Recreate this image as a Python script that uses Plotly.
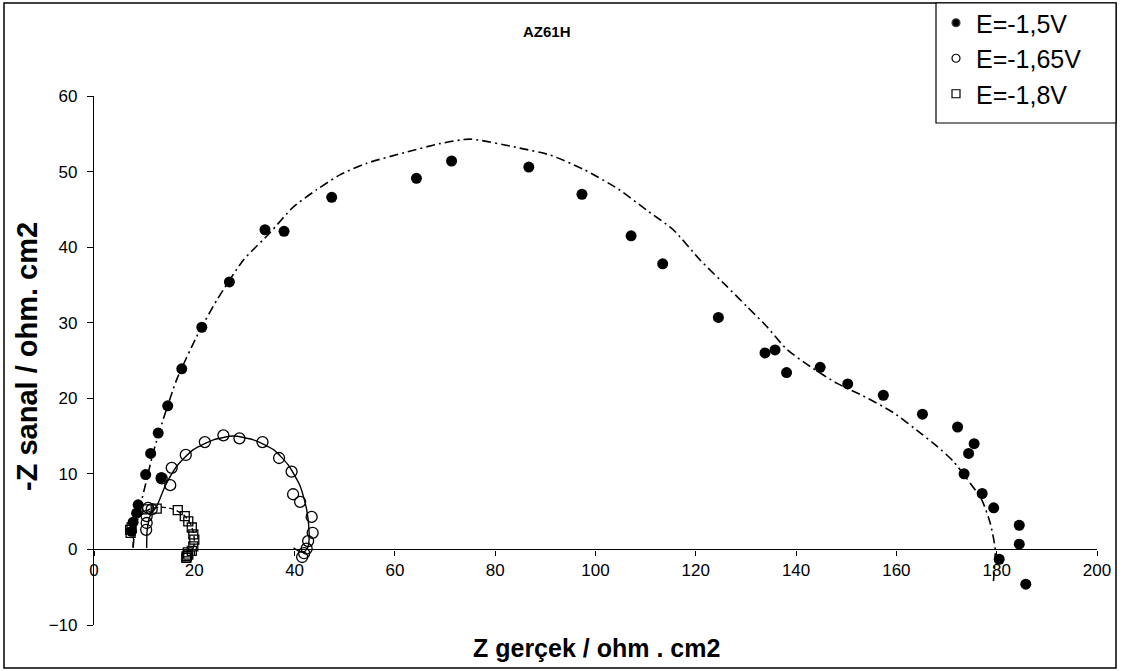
import plotly.graph_objects as go

# ---- data ----
s1_x = [7.5, 7.8, 8.5, 8.8, 10.3, 13.4, 11.3, 12.8, 14.7, 17.5, 21.5, 27.0, 34.1, 37.9, 47.4, 64.3, 71.3,
        86.7, 97.3, 107.1, 113.4, 124.5, 133.8, 135.8, 138.1, 144.8, 150.3, 157.4, 165.2, 172.2, 175.5,
        174.4, 173.5, 177.1, 179.4, 184.5, 184.5, 180.5, 185.8]
s1_y = [2.4, 3.6, 4.8, 5.9, 9.9, 9.5, 12.7, 15.4, 19.0, 23.9, 29.4, 35.4, 42.3, 42.1, 46.6, 49.1, 51.4,
        50.6, 47.0, 41.5, 37.8, 30.7, 26.0, 26.4, 23.4, 24.1, 21.9, 20.4, 17.9, 16.2, 14.0,
        12.7, 10.0, 7.4, 5.5, 3.2, 0.7, -1.3, -4.6]

fit1_x = [7.8, 8.2, 9.2, 10.2, 11.8, 13.8, 16.5, 20.5, 24.5, 29.8, 35.1, 39.7, 44.4, 49.1, 54.4, 62.4,
          69.0, 75.0, 84.9, 90.9, 97.6, 104.5, 110.2, 115.5, 121.0, 126.2, 130.1, 134.0, 138.1, 142.8,
          148.1, 153.4, 159.4, 165.0, 168.0, 171.3, 173.9, 177.0, 178.7, 179.7, 179.3]
fit1_y = [0.2, 3.1, 5.7, 8.4, 12.8, 17.2, 22.5, 28.2, 33.0, 38.3, 41.9, 45.3, 47.6, 49.6, 51.1, 52.6,
          53.7, 54.3, 53.1, 52.2, 50.3, 47.7, 44.9, 42.3, 38.2, 34.8, 32.2, 29.6, 26.5, 24.2,
          22.0, 20.3, 18.1, 15.3, 13.7, 11.7, 9.5, 6.6, 3.5, 0.0, -4.6]

s2_x = [10.4, 10.5, 10.5, 10.8, 11.5, 13.5, 15.2, 15.5, 18.3, 22.1, 25.8, 29.0, 33.6, 36.9, 39.4, 39.7,
        41.1, 43.4, 43.6, 42.7, 42.4, 41.9, 41.5]
s2_y = [2.6, 3.5, 4.4, 5.5, 5.3, 9.4, 8.5, 10.8, 12.5, 14.2, 15.1, 14.7, 14.2, 12.1, 10.3, 7.3,
        6.3, 4.3, 2.2, 1.1, 0.1, -0.5, -1.0]

fit2_x = [10.5, 10.6, 11.2, 12.5, 14.2, 16.5, 19.8, 23.8, 27.8, 31.8, 35.8, 38.7, 41.1, 42.4, 42.9,
          42.7, 41.8, 40.8, 39.8]
fit2_y = [0.2, 2.5, 4.5, 5.7, 8.4, 11.0, 13.2, 14.5, 15.0, 14.5, 13.2, 11.2, 8.4, 5.3, 2.2,
          0.4, -0.4, -0.2, 0.2]

s3_x = [7.2, 7.3, 7.5, 10.5, 12.5, 16.7, 18.1, 18.8, 19.5, 19.8, 20.0, 19.8, 19.5, 18.8, 18.7, 18.5, 18.4]
s3_y = [2.6, 2.2, 2.9, 5.3, 5.4, 5.2, 4.4, 3.7, 2.9, 2.0, 1.3, 0.4, -0.2, -0.7, -0.4, -0.9, -1.1]

fit3_x = [7.8, 8.0, 9.0, 11.0, 13.5, 16.0, 18.0, 19.3, 19.9, 20.0, 19.6, 19.0]
fit3_y = [0.3, 2.5, 4.3, 5.3, 5.6, 5.3, 4.5, 3.3, 2.0, 0.8, -0.3, -0.9]

names = ["E=-1,5V", "E=-1,65V", "E=-1,8V"]
title = "AZ61H"
x_title = "Z gerçek / ohm . cm2"
y_title = "-Z sanal / ohm. cm2"
x_ticks = [0, 20, 40, 60, 80, 100, 120, 140, 160, 180, 200]
y_ticks = [-10, 0, 10, 20, 30, 40, 50, 60]

FONT = "Liberation Sans, Arial, sans-serif"

fig = go.Figure()

# fitted curves
fig.add_trace(go.Scatter(x=fit1_x, y=fit1_y, mode="lines", showlegend=False, hoverinfo="skip",
                         line=dict(color="black", width=1.6, dash="9px,4px,2px,4px", shape="spline", smoothing=0.6)))
fig.add_trace(go.Scatter(x=fit2_x, y=fit2_y, mode="lines", showlegend=False, hoverinfo="skip",
                         line=dict(color="black", width=1.4, shape="spline", smoothing=0.6)))
fig.add_trace(go.Scatter(x=fit3_x, y=fit3_y, mode="lines", showlegend=False, hoverinfo="skip",
                         line=dict(color="black", width=1.4, dash="5px,3px", shape="spline", smoothing=0.6)))

# data markers
fig.add_trace(go.Scatter(x=s3_x, y=s3_y, mode="markers", showlegend=False,
                         marker=dict(symbol="square-open", size=9, color="black", line=dict(width=1.3))))
fig.add_trace(go.Scatter(x=s2_x, y=s2_y, mode="markers", showlegend=False,
                         marker=dict(symbol="circle-open", size=11, color="black", line=dict(width=1.3))))
fig.add_trace(go.Scatter(x=s1_x, y=s1_y, mode="markers", showlegend=False,
                         marker=dict(symbol="circle", size=11, color="black")))

# legend entries (small symbols like the reference)
for nm, sym in zip(names, ["circle", "circle-open", "square-open"]):
    fig.add_trace(go.Scatter(x=[None], y=[None], mode="markers", name=nm,
                             marker=dict(symbol=sym, size=8, color="black", line=dict(width=1.2))))

# plot area: x 94..1097 px, y 96..625 px
W, H = 1126, 671
L, R, T, B = 94, 1097, 96, 625


def px(xp):
    return (xp - L) / (R - L)


def py(yp):
    return (B - yp) / (B - T)


fig.update_layout(
    width=W, height=H,
    margin=dict(l=L, r=W - R, t=T, b=H - B, pad=0, autoexpand=False),
    paper_bgcolor="white", plot_bgcolor="white",
    font=dict(family=FONT, color="black"),
    xaxis=dict(range=[0, 200], tickvals=x_ticks, showgrid=False, zeroline=False,
               showline=True, linecolor="black", linewidth=1.2, ticks="outside", ticklen=5,
               tickcolor="black", anchor="free", position=10 / 70,
               tickfont=dict(size=17, family=FONT)),
    yaxis=dict(range=[-10, 60], tickvals=y_ticks, showgrid=False, zeroline=False,
               showline=True, linecolor="black", linewidth=1.2, ticks="outside", ticklen=6,
               tickcolor="black", tickfont=dict(size=17, family=FONT), ticklabelstandoff=6),
    legend=dict(x=px(936), y=py(0), xanchor="left", yanchor="top", bgcolor="rgba(0,0,0,0)",
                borderwidth=0, font=dict(size=25, family=FONT)),
    showlegend=True,
    shapes=[
        dict(type="rect", xref="paper", yref="paper", x0=px(4), x1=px(1116), y0=py(668), y1=py(3),
             line=dict(color="black", width=1.5), layer="below"),
        dict(type="rect", xref="paper", yref="paper", x0=px(936), x1=px(1116), y0=py(123), y1=py(3),
             line=dict(color="black", width=1.2), fillcolor="white", layer="below"),
    ],
    annotations=[
        dict(text="<b>" + title + "</b>", x=px(547), y=py(32), xref="paper", yref="paper",
             xanchor="center", yanchor="middle", showarrow=False, font=dict(size=15, family=FONT)),
        dict(text="<b>" + x_title + "</b>", x=px(596), y=py(648), xref="paper", yref="paper",
             xanchor="center", yanchor="middle", showarrow=False, font=dict(size=25, family=FONT)),
        dict(text="<b>" + y_title + "</b>", x=px(27), y=py(357), xref="paper", yref="paper",
             xanchor="center", yanchor="middle", showarrow=False, textangle=-90,
             font=dict(size=29, family=FONT)),
    ],
)

fig.write_html("out.html")
